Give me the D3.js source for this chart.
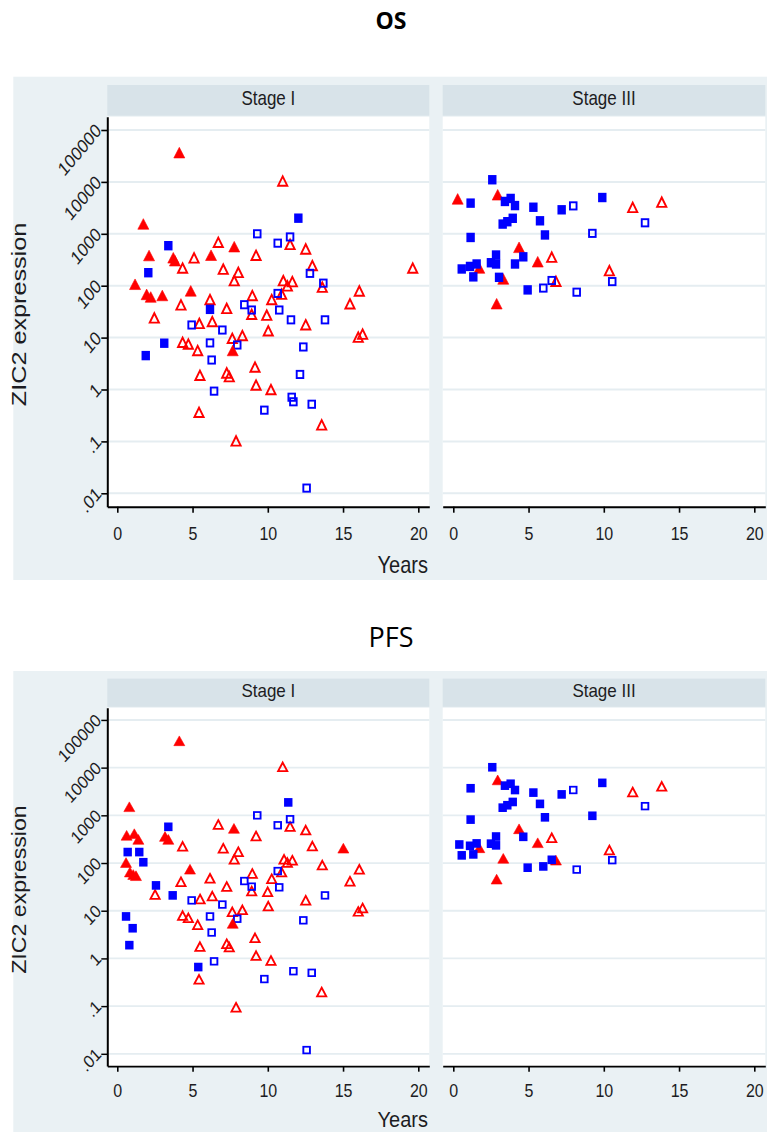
<!DOCTYPE html>
<html><head><meta charset="utf-8">
<script src="https://cdn.jsdelivr.net/npm/d3@7"></script>
<style>body{margin:0;background:#fff}svg{display:block}</style>
</head><body>
<svg id="chart" width="767" height="1132"></svg>
<script>
// ---------- labels ----------
const panels = ["Stage I", "Stage III"];
const xTicks = [0, 5, 10, 15, 20];
const yTicks = [100000, 10000, 1000, 100, 10, 1, 0.1, 0.01];
const yTickLabels = ["100000", "10000", "1000", "100", "10", "1", ".1", ".01"];
const xTitle = "Years";
const yTitle = "ZIC2 expression";
const titles = ["OS", "PFS"];

// ---------- OS, Stage I : [years, ZIC2 expression] ----------
const osStage1FilledTri = [[4.12,35000],[1.73,1480],[7.77,540],[2.11,365],[3.72,330],[3.83,290],[6.23,370],[1.18,102],[1.95,65],[2.22,58],[2.99,62],[4.88,76],[7.67,5.4]];
const osStage1OpenTri = [[10.99,10000],[6.71,660],[11.48,600],[12.52,490],[5.10,330],[9.22,370],[4.34,210],[7.04,200],[8.04,173],[7.77,120],[12.96,235],[19.63,210],[13.62,90],[11.03,120],[11.30,95],[11.63,115],[4.23,41],[6.16,52],[7.27,35],[8.97,62],[10.26,52],[10.92,66],[9.93,26],[15.46,43],[16.08,76],[2.46,23],[8.93,27],[12.52,17],[5.45,18],[6.31,19.6],[10.03,13],[4.34,7.8],[4.72,7.2],[5.34,5.4],[7.64,9.3],[8.31,10.5],[16.01,9.8],[16.3,11.2],[5.49,1.8],[7.27,2.0],[7.44,1.7],[9.15,2.6],[9.22,1.17],[10.21,0.96],[5.43,0.35],[13.58,0.20],[7.89,0.098]];
const osStage1FilledSq = [[12.03,2000],[3.39,590],[2.06,178],[6.16,35],[3.12,7.8],[1.89,4.5]];
const osStage1OpenSq = [[9.30,1000],[11.48,870],[10.66,660],[12.80,173],[13.69,112],[8.44,43],[8.93,34],[10.66,71],[10.76,34],[13.80,22],[11.54,22],[4.94,17.5],[6.98,14],[6.16,7.9],[6.27,3.7],[7.97,7.2],[12.36,6.6],[12.14,1.95],[6.43,0.93],[11.59,0.71],[11.70,0.58],[12.92,0.52],[9.77,0.40],[12.58,0.0126]];

// ---------- OS, Stage III ----------
const osStage3FilledTri = [[0.29,4500],[2.95,5400],[4.37,525],[5.61,277],[1.73,210],[3.32,129],[2.88,43]];
const osStage3OpenTri = [[11.92,3100],[13.85,3900],[6.54,340],[10.37,187],[6.82,117]];
const osStage3FilledSq = [[2.59,11000],[1.15,3900],[3.43,4200],[3.81,4800],[4.10,3500],[5.32,3250],[7.20,2900],[9.90,5000],[3.28,1540],[3.59,1710],[3.95,1990],[5.76,1780],[6.09,950],[1.15,850],[4.65,360],[2.84,390],[2.50,277],[2.84,262],[4.10,262],[0.56,210],[1.11,235],[1.55,262],[1.33,148],[3.04,145],[4.94,83]];
const osStage3OpenSq = [[7.97,3450],[12.74,1630],[9.24,1020],[10.56,120],[6.54,126],[5.98,90],[8.20,75]];

// ---------- PFS, Stage I ----------
const pfsStage1FilledTri = [[4.12,35000],[0.80,1450],[7.75,510],[0.62,365],[1.13,395],[1.40,300],[3.17,345],[3.39,300],[15.02,196],[0.58,98],[0.84,62],[1.06,55],[1.24,52],[4.83,71],[7.67,5.2]];
const pfsStage1OpenTri = [[10.99,10000],[6.71,620],[11.48,560],[12.52,470],[9.22,355],[4.34,215],[7.04,196],[8.04,166],[7.77,115],[12.96,218],[11.08,115],[11.30,98],[11.63,110],[13.62,87],[10.92,62],[8.97,58],[16.08,71],[15.46,40],[4.23,39],[6.16,46],[7.27,31],[8.93,25],[10.26,45],[9.99,24],[2.51,21],[5.50,17],[6.31,19.5],[10.03,12],[12.52,16],[4.34,7.6],[4.72,6.8],[5.34,4.9],[7.64,9.1],[8.31,10],[16.01,9.3],[16.3,11],[5.49,1.7],[7.27,1.95],[7.44,1.66],[9.15,2.6],[9.22,1.1],[10.21,0.87],[5.43,0.35],[13.58,0.19],[7.89,0.091]];
const pfsStage1FilledSq = [[11.36,1870],[3.39,575],[0.69,170],[1.46,170],[1.73,104],[2.57,34],[3.68,21],[0.58,7.6],[1.02,4.3],[0.80,1.9],[5.38,0.66]];
const pfsStage1OpenSq = [[9.30,1000],[11.48,830],[10.66,620],[10.66,68],[8.44,42],[8.93,32],[10.76,31],[13.80,21],[4.94,16.5],[6.98,13.5],[6.16,7.6],[7.97,6.8],[12.36,6.3],[6.27,3.5],[6.43,0.87],[11.70,0.54],[12.92,0.50],[9.77,0.37],[12.58,0.012]];

// ---------- PFS, Stage III ----------
const pfsStage3FilledTri = [[2.95,5300],[4.37,500],[5.61,255],[1.73,200],[3.32,120],[6.82,110],[2.88,44]];
const pfsStage3OpenTri = [[11.92,2960],[13.85,3900],[6.54,325],[10.37,180]];
const pfsStage3FilledSq = [[2.59,10200],[1.15,3700],[3.43,4200],[3.81,4600],[4.10,3400],[5.32,3000],[7.20,2750],[9.90,4800],[3.28,1450],[3.59,1630],[3.95,1910],[5.76,1740],[6.09,910],[9.24,980],[1.15,815],[4.65,355],[2.84,360],[2.50,255],[2.84,235],[0.40,245],[1.11,230],[1.55,258],[0.56,145],[1.33,152],[6.54,117],[5.98,85],[4.94,80]];
const pfsStage3OpenSq = [[7.97,3400],[12.74,1560],[10.56,115],[8.20,73]];

// ---------- build ----------
const graphs = [
  { title: titles[0], panels: [
      {openTri: osStage1OpenTri, openSq: osStage1OpenSq, filledTri: osStage1FilledTri, filledSq: osStage1FilledSq},
      {openTri: osStage3OpenTri, openSq: osStage3OpenSq, filledTri: osStage3FilledTri, filledSq: osStage3FilledSq}]},
  { title: titles[1], panels: [
      {openTri: pfsStage1OpenTri, openSq: pfsStage1OpenSq, filledTri: pfsStage1FilledTri, filledSq: pfsStage1FilledSq},
      {openTri: pfsStage3OpenTri, openSq: pfsStage3OpenSq, filledTri: pfsStage3FilledTri, filledSq: pfsStage3FilledSq}]}
];

const svg = d3.select("#chart");
const FONT = "'Liberation Sans', Arial, sans-serif";
const TXT = "#1c1c22";
const S = 1.2; // vertical stretch of text in the source image
const RED = "#ff0000", BLUE = "#0000ff";

// layout (in OS coordinates)
const L = {
  bg: {x0: 13.3, x1: 767, y0: 76.7, y1: 580},
  stripY: [85, 115.7],
  plotY: [116.7, 506.7],
  panelX: [[107.3, 429.3], [442.7, 765.3]],
  zeroX: [117.3, 453.3],
  pxPerYear: 15.05
};

const yScale = d3.scaleLog()
  .domain([Math.pow(10, 5 + (130 - L.plotY[0]) / 51.9), Math.pow(10, 5 - (L.plotY[1] - 130) / 51.9)])
  .range(L.plotY);

const triFilled = "M0,-6.3L5.5,4.3L-5.5,4.3Z";
const triOpen = "M0,-5.6L4.6,3.8L-4.6,3.8Z";

function drawGraph(g, graph) {
  g.append("rect").attr("x", L.bg.x0).attr("y", L.bg.y0)
    .attr("width", L.bg.x1 - L.bg.x0).attr("height", L.bg.y1 - L.bg.y0).attr("fill", "#eaf1f4");

  graph.panels.forEach((pd, pi) => {
    const [px0, px1] = L.panelX[pi];
    const x = d3.scaleLinear()
      .domain([(px0 - L.zeroX[pi]) / L.pxPerYear, (px1 - L.zeroX[pi]) / L.pxPerYear])
      .range([px0, px1]);

    // strip
    g.append("rect").attr("x", px0).attr("y", L.stripY[0]).attr("width", px1 - px0)
      .attr("height", L.stripY[1] - L.stripY[0]).attr("fill", "#d8e3e9");
    g.append("text").attr("transform", `translate(${(px0 + px1) / 2},105) scale(1,${S})`)
      .attr("text-anchor", "middle").attr("font-family", FONT).attr("font-size", 17)
      .attr("fill", TXT).text(panels[pi]);

    // plot area
    g.append("rect").attr("x", px0).attr("y", L.plotY[0]).attr("width", px1 - px0)
      .attr("height", L.plotY[1] - L.plotY[0]).attr("fill", "#ffffff");

    // grid
    g.append("g").selectAll("line").data(yTicks).join("line")
      .attr("x1", px0).attr("x2", px1)
      .attr("y1", d => yScale(d)).attr("y2", d => yScale(d))
      .attr("stroke", "#e5edf1").attr("stroke-width", 2);

    // markers
    const mk = g.append("g");
    mk.selectAll(".ot").data(pd.openTri).join("path").attr("class", "ot")
      .attr("d", triOpen).attr("transform", d => `translate(${x(d[0])},${yScale(d[1])})`)
      .attr("fill", "none").attr("stroke", RED).attr("stroke-width", 1.9).attr("stroke-linejoin", "miter");
    mk.selectAll(".os").data(pd.openSq).join("rect").attr("class", "os")
      .attr("x", d => x(d[0]) - 3.3).attr("y", d => yScale(d[1]) - 3.6)
      .attr("width", 6.6).attr("height", 7.2)
      .attr("fill", "none").attr("stroke", BLUE).attr("stroke-width", 1.9);
    mk.selectAll(".ft").data(pd.filledTri).join("path").attr("class", "ft")
      .attr("d", triFilled).attr("transform", d => `translate(${x(d[0])},${yScale(d[1])})`)
      .attr("fill", RED).attr("stroke", RED).attr("stroke-width", 0.6);
    mk.selectAll(".fs").data(pd.filledSq).join("rect").attr("class", "fs")
      .attr("x", d => x(d[0]) - 4.2).attr("y", d => yScale(d[1]) - 4.7)
      .attr("width", 8.4).attr("height", 9.4).attr("fill", BLUE);

    // x axis
    const xa = g.append("g").attr("transform", `translate(0,${L.plotY[1]})`)
      .call(d3.axisBottom(x).tickValues(xTicks).tickSizeInner(6).tickSizeOuter(0).tickFormat(d3.format("d")));
    xa.select(".domain").attr("stroke", "#000").attr("stroke-width", 2);
    xa.selectAll(".tick line").attr("stroke", "#000").attr("stroke-width", 1.6);
    xa.selectAll(".tick text").attr("y", null).attr("dy", null)
      .attr("transform", `translate(0,33.3) scale(1,${S})`)
      .attr("font-family", FONT).attr("font-size", 16).attr("fill", TXT);

    if (pi === 0) {
      const ya = g.append("g").attr("transform", `translate(${px0},0)`)
        .call(d3.axisLeft(yScale).tickValues(yTicks).tickSizeInner(6).tickSizeOuter(0)
          .tickFormat((d, i) => yTickLabels[i]));
      ya.select(".domain").attr("stroke", "#000").attr("stroke-width", 2);
      ya.selectAll(".tick line").attr("stroke", "#000").attr("stroke-width", 1.6);
      ya.selectAll(".tick text").attr("x", null).attr("dy", null)
        .attr("text-anchor", "end")
        .attr("transform", `translate(-5,1.3) scale(1,${S}) rotate(-45)`)
        .attr("font-family", FONT).attr("font-size", 16).attr("fill", TXT);
      // y title
      g.append("text").attr("transform", `translate(25.6,314.5) scale(1,${S}) rotate(-90)`)
        .attr("text-anchor", "middle").attr("font-family", FONT).attr("font-size", 21)
        .attr("fill", TXT).text(yTitle);
      // x title
      g.append("text").attr("transform", `translate(428,573.3) scale(1,${S})`)
        .attr("text-anchor", "end").attr("font-family", FONT).attr("font-size", 20)
        .attr("fill", TXT).text(xTitle);
    }
  });
  g.selectAll(".domain").raise();
}

// OS graph
svg.append("text").attr("x", 391).attr("y", 29.3).attr("text-anchor", "middle")
  .attr("font-family", "'Open Sans', sans-serif").attr("font-weight", "bold").attr("font-size", 23)
  .attr("fill", "#000").text(graphs[0].title);
drawGraph(svg.append("g"), graphs[0]);

// PFS graph
svg.append("text").attr("x", 391).attr("y", 646.7).attr("text-anchor", "middle")
  .attr("font-family", "'Open Sans', sans-serif").attr("font-size", 27)
  .attr("fill", "#000").text(graphs[1].title);
drawGraph(svg.append("g").attr("transform", "translate(0,600.5) scale(1,0.919)"), graphs[1]);
</script>
</body></html>
